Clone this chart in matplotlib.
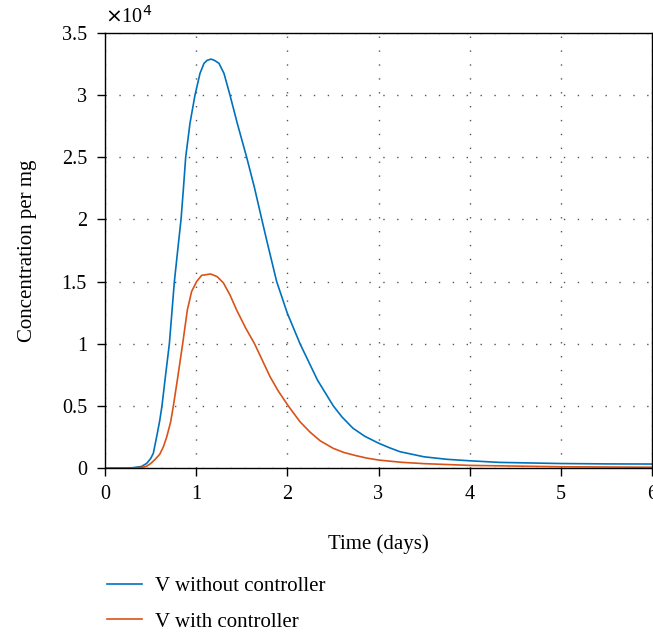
import numpy as np
import matplotlib
matplotlib.use("Agg")
import matplotlib.pyplot as plt

plt.rcParams['font.family'] = ['Liberation Serif', 'DejaVu Serif']

# time (days) and concentration (x 10^4)
t_without = [0, 0.2, 0.3, 0.4, 0.457, 0.5, 0.53, 0.574, 0.6, 0.625, 0.66,
             0.706, 0.761, 0.8, 0.834, 0.859, 0.885, 0.932, 0.987, 1.042,
             1.086, 1.12, 1.163, 1.2, 1.25, 1.305, 1.371, 1.451, 1.554, 1.638,
             1.72, 1.773, 1.883, 2.0, 2.139, 2.33, 2.504, 2.6, 2.72, 2.85, 3.0,
             3.12, 3.236, 3.5, 3.75, 4.0, 4.33, 5.0, 5.5, 6.0]
v_without = [0, 0, 0.002, 0.012, 0.037, 0.075, 0.118, 0.279, 0.38, 0.5, 0.72,
             1.0, 1.5, 1.77, 2.0, 2.237, 2.5, 2.773, 3.0, 3.175,
             3.256, 3.28, 3.29, 3.28, 3.256, 3.175, 3.0, 2.773, 2.5, 2.26,
             2.0, 1.834, 1.5, 1.245, 1.0, 0.708, 0.5, 0.41, 0.32, 0.255, 0.2,
             0.163, 0.131, 0.09, 0.07, 0.058, 0.045, 0.036, 0.033, 0.032]

t_with = [0, 0.3, 0.4, 0.45, 0.5, 0.55, 0.6, 0.64, 0.677, 0.72, 0.75, 0.8,
          0.852, 0.903, 0.95, 1.005, 1.06, 1.159, 1.23, 1.298, 1.371, 1.444,
          1.54, 1.64, 1.73, 1.81, 1.9, 2.01, 2.139, 2.25, 2.36, 2.504, 2.62,
          2.75, 2.87, 3.0, 3.25, 3.5, 4.0, 5.0, 6.0]
v_with = [0, 0, 0.005, 0.012, 0.035, 0.07, 0.11, 0.17, 0.25, 0.37, 0.5, 0.74,
          1.0, 1.27, 1.42, 1.5, 1.55, 1.561, 1.54, 1.49, 1.392, 1.271,
          1.13, 1.0, 0.86, 0.735, 0.62, 0.5, 0.372, 0.288, 0.219, 0.158, 0.125,
          0.1, 0.08, 0.064, 0.046, 0.035, 0.021, 0.01, 0.006]

labels = ['V without controller', 'V with controller']
colors = ['#0072BD', '#D95319']

fig = plt.figure(figsize=(6.53, 6.32), dpi=100)
ax = fig.add_axes([105/653, 1-468/632, 547/653, 435/632])

l1, = ax.plot(t_without, v_without, color=colors[0], lw=1.2, label=labels[0],
              solid_joinstyle='round')
l2, = ax.plot(t_with, v_with, color=colors[1], lw=1.2, label=labels[1],
              solid_joinstyle='round')

ax.set_xlim(0, 6)
ax.set_ylim(0, 3.5)
ax.set_xticks(np.arange(0, 7, 1))
ax.set_yticks(np.arange(0, 3.51, 0.5))
ax.set_yticklabels(['%g' % v for v in np.arange(0, 3.51, 0.5)])
ax.tick_params(direction='out', length=6, width=1, labelsize=14.5, pad=7)
ax.tick_params(axis='x', pad=6)
ax.grid(True, color='#555555', linestyle=(0, (1, 9)), linewidth=1)
for s in ax.spines.values():
    s.set_linewidth(1)

ax.text(0, 1.012, r'$\times$10$^4$', transform=ax.transAxes, fontsize=14.5,
        ha='left', va='bottom')
ax.set_ylabel('Concentration per mg', fontsize=15, labelpad=18)
ax.set_xlabel('Time (days)', fontsize=15, labelpad=22)

fig.legend(handles=[l1, l2], loc='upper left', bbox_to_anchor=(88/653, 1-558/632),
           frameon=False, fontsize=15, handlelength=1.7, handletextpad=0.6,
           labelspacing=0.75)

fig.savefig('out.png', dpi=100)
